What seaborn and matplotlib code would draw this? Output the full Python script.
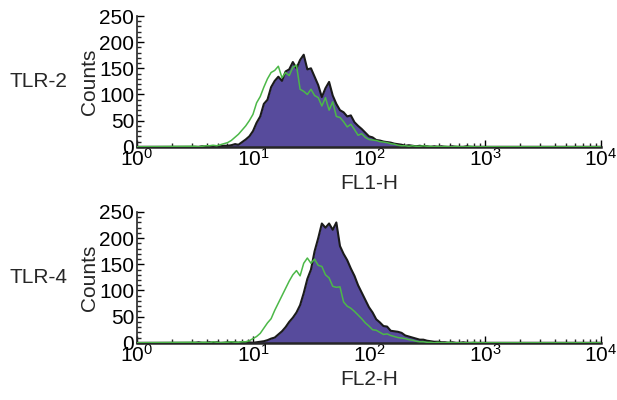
import numpy as np
import pandas as pd
import seaborn as sns
import matplotlib.pyplot as plt
from matplotlib.ticker import LogLocator, MultipleLocator, NullFormatter

# bin centres in log10 units, 1/32 decade apart, from 10^0.5 up
log_start = 0.5
log_step = 1 / 32

# TLR-2 panel (FL1-H)
tlr2_stained = [0, 0, 1, 0, 1, 1, 0, 1, 2, 2,
                3, 5, 4, 9, 14, 20, 30, 46, 58, 82,
                90, 114, 126, 134, 126, 144, 148, 162, 150, 166,
                176, 148, 150, 134, 118, 95, 112, 124, 98, 82,
                70, 66, 58, 60, 47, 40, 34, 27, 20, 18,
                13, 12, 10, 9, 8, 6, 5, 4, 2, 3,
                2, 1, 2, 1, 1, 0, 1, 0, 1, 0,
                0, 1, 0, 0, 0, 1, 0, 0, 0, 0]
tlr2_control = [1, 0, 1, 2, 2, 3, 2, 4, 6, 8,
                12, 18, 24, 32, 40, 50, 62, 84, 96, 114,
                130, 142, 146, 154, 132, 142, 136, 152, 156, 110,
                106, 100, 110, 98, 94, 78, 94, 70, 86, 58,
                56, 48, 38, 43, 33, 22, 25, 18, 14, 13,
                12, 10, 9, 8, 6, 5, 3, 2, 2, 1,
                2, 1, 1, 2, 1, 1, 0, 1, 0, 1,
                0, 0, 1, 0, 0, 0, 1, 0, 0, 0]

# TLR-4 panel (FL2-H)
tlr4_stained = [0, 1, 0, 0, 1, 0, 1, 0, 0, 1,
                0, 1, 0, 1, 0, 1, 0, 1, 2, 3,
                5, 8, 10, 16, 22, 30, 40, 48, 58, 72,
                95, 122, 140, 175, 200, 228, 220, 228, 216, 230,
                185, 170, 158, 142, 128, 110, 96, 82, 68, 58,
                45, 39, 32, 31, 23, 22, 21, 19, 14, 12,
                10, 8, 6, 6, 4, 3, 2, 2, 1, 1,
                0, 1, 0, 0, 1, 0, 0, 0, 0, 0]
tlr4_control = [1, 0, 1, 1, 0, 2, 1, 0, 1, 1,
                2, 1, 1, 2, 2, 4, 8, 12, 18, 28,
                38, 46, 62, 76, 90, 104, 118, 130, 138, 128,
                152, 162, 152, 160, 148, 146, 130, 124, 108, 106,
                107, 78, 70, 66, 60, 53, 46, 38, 32, 25,
                24, 20, 16, 17, 14, 12, 10, 9, 8, 6,
                5, 3, 2, 2, 1, 1, 0, 1, 0, 0,
                1, 0, 0, 0, 0, 0, 0, 1, 0, 0]

panels = [("TLR-2", "FL1-H", tlr2_stained, tlr2_control),
          ("TLR-4", "FL2-H", tlr4_stained, tlr4_control)]

purple = "#574b9c"
green = "#4cb848"

sns.set_style("ticks")
plt.rcParams["font.family"] = ["Liberation Sans", "DejaVu Sans"]
plt.rcParams["mathtext.fontset"] = "custom"
plt.rcParams["mathtext.rm"] = "Liberation Sans"

fig = plt.figure(figsize=(6.17, 4.0), dpi=100)
boxes = [[0.222, 0.633, 0.752, 0.327], [0.222, 0.143, 0.752, 0.327]]

for box, (name, xlab, stained, control) in zip(boxes, panels):
    ax = fig.add_axes(box)
    n = len(stained)
    x = 10 ** (log_start + log_step * np.arange(n))
    # pad with the empty channels at both ends of the scale
    x = np.concatenate([[1.0], x, [1e4]])
    df = pd.DataFrame({
        "x": x,
        "stained": np.concatenate([[0], stained, [0]]),
        "control": np.concatenate([[0], control, [0]]),
    })
    ax.fill_between(df["x"], 0, df["stained"], color=purple, lw=0, zorder=1)
    sns.lineplot(data=df, x="x", y="stained", ax=ax, color="#1a1a1a", lw=1.5, zorder=2)
    sns.lineplot(data=df, x="x", y="control", ax=ax, color=green, lw=1.1, zorder=3)

    ax.set_xscale("log")
    ax.set_xlim(1, 1e4)
    ax.set_ylim(0, 250)
    ax.xaxis.set_major_locator(LogLocator(base=10, numticks=10))
    ax.xaxis.set_minor_locator(LogLocator(base=10, subs=np.arange(2, 10), numticks=20))
    ax.xaxis.set_minor_formatter(NullFormatter())
    ax.yaxis.set_major_locator(MultipleLocator(50))
    ax.yaxis.set_minor_locator(MultipleLocator(10))
    ax.tick_params(axis="both", which="major", direction="in", length=5, width=1,
                   labelsize=15, pad=1, colors="black")
    ax.tick_params(axis="both", which="minor", direction="in", length=3, width=1)
    ax.tick_params(axis="y", which="both", pad=2)
    sns.despine(ax=ax)
    ax.spines["left"].set_linewidth(1.2)
    ax.spines["bottom"].set_linewidth(1.8)
    ax.set_xlabel(xlab, fontsize=15, labelpad=3)
    ax.set_ylabel("Counts", fontsize=15, labelpad=0)
    y_mid = box[1] + box[3] / 2
    fig.text(10 / 617, y_mid, name, fontsize=15, ha="left", va="center")

fig.savefig("out.png", dpi=100)
